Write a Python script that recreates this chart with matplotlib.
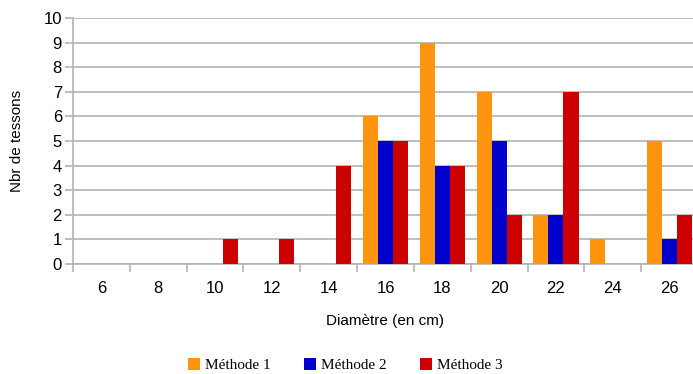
import numpy as np
import matplotlib.pyplot as plt
from matplotlib.patches import Patch

# Diamètres (cm) et nombre de tessons par méthode
diametres = [6, 8, 10, 12, 14, 16, 18, 20, 22, 24, 26]
methode_1 = [0, 0, 0, 0, 0, 6, 9, 7, 2, 1, 5]
methode_2 = [0, 0, 0, 0, 0, 5, 4, 5, 2, 0, 1]
methode_3 = [0, 0, 1, 1, 4, 5, 4, 2, 7, 0, 2]
noms = ["Méthode 1", "Méthode 2", "Méthode 3"]
couleurs = ["#ff950e", "#0000cc", "#cc0000"]

plt.rcParams['font.family'] = ['Liberation Sans', 'DejaVu Sans']

fig = plt.figure(figsize=(6.93, 3.74), dpi=100)
ax = fig.add_axes([73 / 693, 1 - 264 / 374, 625 / 693, 246 / 374])

x = np.arange(len(diametres))
w = 0.265
for i, (vals, c) in enumerate(zip([methode_1, methode_2, methode_3], couleurs)):
    ax.bar(x + (i - 1) * w, vals, width=w, color=c, zorder=3)

ax.set_xlim(-0.5, len(diametres) - 0.5)
ax.set_ylim(0, 10)
ax.set_yticks(range(11))
ax.yaxis.grid(True, color="#b3b3b3", linewidth=1.2, zorder=0)

# ticks majeurs entre les catégories, étiquettes au centre
ax.set_xticks(np.arange(-0.5, len(diametres), 1))
ax.set_xticklabels([])
ax.set_xticks(x, minor=True)
ax.set_xticklabels([str(d) for d in diametres], minor=True)
ax.tick_params(axis='x', which='minor', length=0, labelsize=12, pad=12)
ax.tick_params(axis='x', which='major', length=6, color="#b3b3b3", width=1.2)
ax.tick_params(axis='y', length=6, color="#b3b3b3", width=1.2, labelsize=12, pad=2)

for s in ["top", "right"]:
    ax.spines[s].set_visible(False)
for s in ["left", "bottom"]:
    ax.spines[s].set_color("#b3b3b3")
    ax.spines[s].set_linewidth(1.2)

ax.set_xlabel("Diamètre (en cm)", fontsize=11, labelpad=13)
ax.set_ylabel("Nbr de tessons", fontsize=11, labelpad=14)

handles = [Patch(facecolor=c, label=n) for n, c in zip(noms, couleurs)]
fig.legend(handles=handles, loc='center', bbox_to_anchor=(345 / 693, 1 - 365 / 374),
           ncol=3, frameon=False, prop={'family': 'Liberation Serif', 'size': 11},
           handlelength=0.8, handleheight=0.8, handletextpad=0.3, columnspacing=2.2)

fig.savefig("out.png", dpi=100)
